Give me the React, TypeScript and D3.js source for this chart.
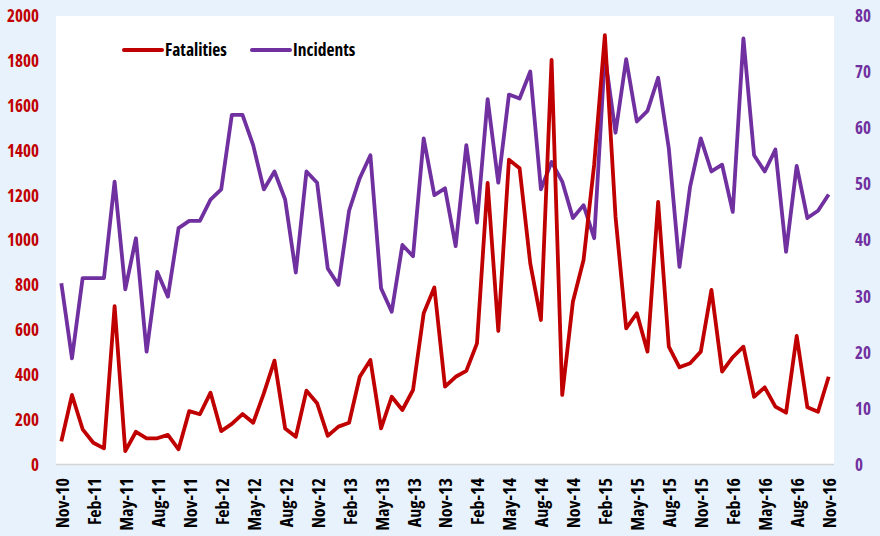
import { useEffect, useRef } from 'react';
import * as d3 from 'd3';

// monthly series, Nov-10 .. Nov-16
const months = [
  'Nov-10', 'Dec-10', 'Jan-11', 'Feb-11', 'Mar-11', 'Apr-11', 'May-11', 'Jun-11', 'Jul-11', 'Aug-11', 'Sep-11', 'Oct-11',
  'Nov-11', 'Dec-11', 'Jan-12', 'Feb-12', 'Mar-12', 'Apr-12', 'May-12', 'Jun-12', 'Jul-12', 'Aug-12', 'Sep-12', 'Oct-12',
  'Nov-12', 'Dec-12', 'Jan-13', 'Feb-13', 'Mar-13', 'Apr-13', 'May-13', 'Jun-13', 'Jul-13', 'Aug-13', 'Sep-13', 'Oct-13',
  'Nov-13', 'Dec-13', 'Jan-14', 'Feb-14', 'Mar-14', 'Apr-14', 'May-14', 'Jun-14', 'Jul-14', 'Aug-14', 'Sep-14', 'Oct-14',
  'Nov-14', 'Dec-14', 'Jan-15', 'Feb-15', 'Mar-15', 'Apr-15', 'May-15', 'Jun-15', 'Jul-15', 'Aug-15', 'Sep-15', 'Oct-15',
  'Nov-15', 'Dec-15', 'Jan-16', 'Feb-16', 'Mar-16', 'Apr-16', 'May-16', 'Jun-16', 'Jul-16', 'Aug-16', 'Sep-16', 'Oct-16',
  'Nov-16',
];

const fatalities = [
  105, 312, 159, 99, 74, 708, 62, 148, 119, 119, 134, 70,
  240, 226, 322, 151, 183, 227, 188, 319, 465, 163, 126, 331,
  275, 130, 171, 188, 393, 468, 163, 304, 245, 334, 676, 791,
  349, 393, 419, 542, 1257, 597, 1360, 1322, 898, 646, 1805, 312,
  727, 913, 1340, 1915, 1106, 609, 676, 505, 1172, 527, 435, 453,
  505, 780, 416, 480, 527, 304, 346, 260, 233, 575, 257, 237,
  393,
];

const incidents = [
  32.4, 19.0, 33.3, 33.3, 33.3, 50.5, 31.3, 40.4, 20.2, 34.4, 30.0, 42.2,
  43.5, 43.5, 47.3, 49.1, 62.4, 62.4, 57.0, 49.1, 52.3, 47.3, 34.3, 52.3,
  50.3, 35.0, 32.1, 45.3, 51.1, 55.2, 31.5, 27.3, 39.2, 37.2, 58.2, 48.1,
  49.3, 39.0, 57.0, 43.2, 65.2, 50.3, 66.0, 65.3, 70.1, 49.1, 54.0, 50.5,
  44.0, 46.3, 40.4, 73.0, 59.2, 72.3, 61.2, 63.1, 69.0, 56.4, 35.3, 49.6,
  58.2, 52.3, 53.5, 45.1, 76.0, 55.2, 52.3, 56.2, 38.0, 53.3, 44.0, 45.3,
  48.2,
];

const leftTicks = [0, 200, 400, 600, 800, 1000, 1200, 1400, 1600, 1800, 2000];
const rightTicks = [0, 10, 20, 30, 40, 50, 60, 70, 80];

const RED = '#c00000';
const PURPLE = '#7030a0';
const FONT = '"Open Sans", "Liberation Sans Narrow", sans-serif';

export default function App() {
  const svgRef = useRef<SVGSVGElement>(null);

  useEffect(() => {
    const width = 880;
    const height = 536;
    const plot = { left: 56, right: 834, top: 16, bottom: 465 };

    const svg = d3.select(svgRef.current);
    svg.selectAll('*').remove();
    svg.attr('width', width).attr('height', height);

    svg.append('rect').attr('width', width).attr('height', height).attr('fill', '#e8f2fc');
    svg.append('rect')
      .attr('x', plot.left).attr('y', plot.top)
      .attr('width', plot.right - plot.left).attr('height', plot.bottom - plot.top)
      .attr('fill', '#ffffff');

    const x = d3.scalePoint<string>()
      .domain(months)
      .range([plot.left, plot.right])
      .padding(0.5);
    const yL = d3.scaleLinear().domain([0, 2000]).range([plot.bottom, plot.top]);
    const yR = d3.scaleLinear().domain([0, 80]).range([plot.bottom, plot.top]);

    const txt = (sel: d3.Selection<any, any, any, any>, size: number) =>
      sel.style('font-family', FONT)
        .style('font-weight', '700')
        .style('font-size', `${size}px`)
        .style('font-stretch', 'condensed');

    // axis baseline
    svg.append('line')
      .attr('x1', plot.left).attr('x2', plot.right)
      .attr('y1', plot.bottom - 0.5).attr('y2', plot.bottom - 0.5)
      .attr('stroke', '#d4d4d4').attr('stroke-width', 1.5);

    // left ticks
    txt(svg.append('g').selectAll('text').data(leftTicks).join('text')
      .attr('x', 39).attr('y', d => yL(d))
      .attr('dy', '0.35em')
      .attr('text-anchor', 'end')
      .attr('fill', RED)
      .text(d => d), 17);

    // right ticks
    txt(svg.append('g').selectAll('text').data(rightTicks).join('text')
      .attr('x', 855).attr('y', d => yR(d))
      .attr('dy', '0.35em')
      .attr('text-anchor', 'start')
      .attr('fill', PURPLE)
      .text(d => d), 17);

    // category labels, every 3rd month
    txt(svg.append('g').selectAll('text')
      .data(months.filter((_, i) => i % 3 === 0))
      .join('text')
      .attr('transform', d => `translate(${x(d)! + 1},${478}) rotate(-90)`)
      .attr('dy', '0.36em')
      .attr('text-anchor', 'end')
      .attr('fill', '#000')
      .text(d => d), 18);

    const lineL = d3.line<number>().x((_, i) => x(months[i])!).y(d => yL(d));
    const lineR = d3.line<number>().x((_, i) => x(months[i])!).y(d => yR(d));

    svg.append('path').datum(incidents)
      .attr('d', lineR)
      .attr('fill', 'none').attr('stroke', PURPLE)
      .attr('stroke-width', 3.8).attr('stroke-linejoin', 'round');

    svg.append('path').datum(fatalities)
      .attr('d', lineL)
      .attr('fill', 'none').attr('stroke', RED)
      .attr('stroke-width', 3.8).attr('stroke-linejoin', 'round');

    // legend
    const legend = [
      { label: 'Fatalities', color: RED, x: 124 },
      { label: 'Incidents', color: PURPLE, x: 252 },
    ];
    const lg = svg.append('g').selectAll('g').data(legend).join('g')
      .attr('transform', d => `translate(${d.x},50)`);
    lg.append('line')
      .attr('x1', 0).attr('x2', 38)
      .attr('stroke', d => d.color).attr('stroke-width', 4).attr('stroke-linecap', 'round');
    txt(lg.append('text')
      .attr('x', 41).attr('dy', '0.35em')
      .attr('fill', '#000')
      .text(d => d.label), 17.5);
  }, []);

  return (
    <svg ref={svgRef} style={{ position: 'absolute', left: 0, top: 0, display: 'block' }}></svg>
  );
}
